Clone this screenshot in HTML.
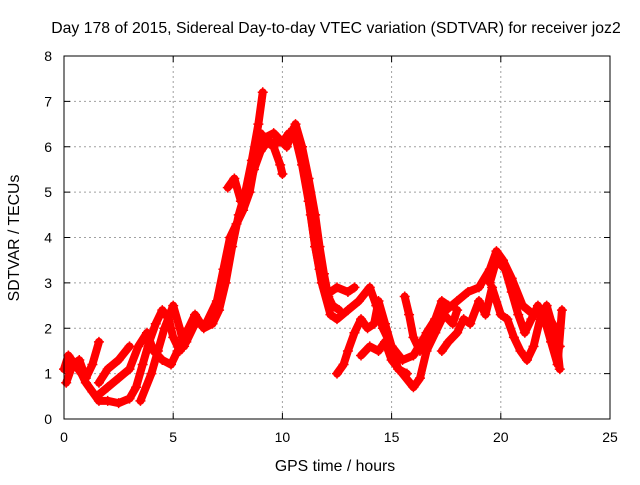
<!DOCTYPE html>
<html><head><meta charset="utf-8"><style>
body{margin:0;background:#fff;}
svg text{font-family:"Liberation Sans",Arial,sans-serif;font-size:14px;fill:#000;}
svg text.big{font-size:15.8px;}
</style></head><body>
<svg width="640" height="480" viewBox="0 0 640 480" id="chart">
<text class="big" x="336" y="33" text-anchor="middle">Day 178 of 2015, Sidereal Day-to-day VTEC variation (SDTVAR) for receiver joz2</text>
<text class="big" x="335" y="471" text-anchor="middle">GPS time / hours</text>
<text class="big" transform="translate(19,238) rotate(-90)" text-anchor="middle">SDTVAR / TECUs</text>
<g id="grid"></g>
<g id="ticks"></g>
<g id="marks"></g>
<rect x="64" y="56" width="546" height="363" fill="none" stroke="#000" stroke-width="1"/>
</svg>
<script>
const xTicks=[0,5,10,15,20,25];
const yTicks=[0,1,2,3,4,5,6,7,8];
const trackA=[[0,1.1],[0.2,1.4],[0.5,1.2],[0.8,1.0],[1.0,0.8],[1.3,0.6],[1.6,0.4],[2.0,0.4],[2.5,0.35],[3.0,0.45],[3.3,0.7],[3.6,1.2],[3.9,1.7],[4.2,2.1],[4.5,2.4],[4.8,2.2],[5.0,1.8],[5.3,1.5],[5.6,1.7],[6.0,2.1],[6.5,2.1],[7.0,2.6],[7.3,3.3],[7.6,4.0],[7.9,4.3],[8.2,4.6],[8.5,5.0],[8.8,5.8],[9.0,6.3],[9.3,6.1],[9.6,6.1],[10.0,6.1],[10.3,6.3],[10.6,6.2],[10.9,5.6],[11.2,4.8],[11.5,3.8],[11.8,3.0],[12.2,2.3],[12.5,2.2],[13.0,2.4],[13.5,2.6],[14.0,2.9],[14.3,2.5],[14.6,2.0],[15.0,1.6],[15.5,1.3],[16.0,1.4],[16.5,1.8],[17.0,2.2],[17.5,2.4],[18.0,2.6],[18.5,2.8],[19.0,2.9],[19.5,3.3],[19.8,3.7],[20.1,3.5],[20.5,3.1],[21.0,2.5],[21.5,2.3],[22.0,2.4],[22.5,2.0],[22.7,1.1]];
const trackB=[[0.1,0.8],[0.4,1.2],[0.7,1.3],[1.0,0.9],[1.3,1.2],[1.6,1.7]];
const trackC=[[1.6,0.8],[2.0,1.1],[2.5,1.3],[3.0,1.6]];
const trackD=[[1.5,0.5],[2.0,0.7],[2.5,0.9],[3.0,1.1],[3.4,1.6],[3.8,1.9],[4.1,1.5],[4.5,1.3],[4.9,1.2],[5.2,1.5],[5.6,1.9],[6.0,2.3],[6.4,2.0],[6.8,2.1],[7.1,2.4],[7.4,3.0],[7.7,3.8],[8.0,4.5],[8.3,5.0],[8.6,5.7],[8.9,6.5],[9.1,7.2]];
const trackE=[[3.5,0.4],[4.0,1.0],[4.3,1.5],[4.6,2.0],[5.0,2.5],[5.3,2.0],[5.5,1.6]];
const trackF=[[7.5,5.1],[7.8,5.3],[8.1,4.8],[8.4,5.0],[8.7,5.5],[9.0,5.9],[9.3,6.1],[9.6,6.0],[9.9,5.6],[10.0,5.4]];
const trackG=[[10.5,6.4],[10.8,6.0],[11.0,5.5],[11.3,4.5],[11.5,3.8],[11.7,3.3],[11.9,2.9],[12.2,2.8],[12.5,2.9],[13.0,2.8],[13.3,2.9]];
const trackM=[[9.2,6.2],[9.6,6.3],[10.2,6.0],[10.6,6.5],[10.9,6.0],[11.2,5.3],[11.5,4.5],[11.7,3.8],[11.9,3.2],[12.1,2.7],[12.3,2.5],[12.6,2.4]];
const trackH=[[12.5,1.0],[12.8,1.2],[13.0,1.5],[13.3,1.9],[13.6,2.2],[13.9,2.0],[14.2,2.1],[14.4,2.6],[14.7,2.1],[15.0,1.6],[15.3,1.1],[15.7,1.0]];
const trackI=[[13.6,1.4],[14.0,1.6],[14.4,1.5],[14.7,1.7],[15.0,1.3],[15.5,1.0],[16.0,0.7],[16.3,0.9],[16.6,1.5],[17.0,1.9],[17.4,2.3],[17.8,2.1],[18.0,2.4]];
const trackJ=[[15.6,2.7],[15.8,2.3],[16.0,1.8],[16.3,1.5],[16.6,1.9],[17.0,2.2],[17.3,2.6],[17.6,2.5]];
const trackK=[[17.3,1.5],[17.6,1.7],[18.0,1.9],[18.3,2.2],[18.6,2.1],[19.0,2.6],[19.3,2.3],[19.6,2.9],[20.0,2.3],[20.3,2.2],[20.6,1.8],[20.9,1.5],[21.2,1.3],[21.5,1.6],[21.8,2.2],[22.1,2.5],[22.4,2.0],[22.7,1.6]];
const trackL=[[19.5,3.0],[19.8,3.5],[20.2,3.3],[20.5,2.8],[20.8,2.3],[21.1,1.9],[21.4,2.2],[21.7,2.5],[22.0,2.2],[22.3,1.7],[22.6,1.2],[22.8,2.4]];
const tracks=[trackA,trackB,trackC,trackD,trackE,trackF,trackG,trackM,trackH,trackI,trackJ,trackK,trackL];

const NS='http://www.w3.org/2000/svg';
function xs(v){return 64+v*(546/25);}
function ys(v){return 419-v*(363/8);}
function mk(t,a,p){const e=document.createElementNS(NS,t);for(const k in a)e.setAttribute(k,a[k]);p.appendChild(e);return e;}
const grid=document.getElementById('grid'),ticks=document.getElementById('ticks'),marks=document.getElementById('marks');
xTicks.forEach(t=>{
  const x=xs(t);
  if(t>0&&t<25){const l=mk('line',{x1:x,x2:x,y1:56,y2:419,stroke:'#a0a0a0','stroke-dasharray':'2,3'},grid);
  
  }
  mk('line',{x1:x,x2:x,y1:419,y2:413,stroke:'#000'},ticks);
  mk('line',{x1:x,x2:x,y1:56,y2:62,stroke:'#000'},ticks);
  const tx=mk('text',{x:x,y:442,'text-anchor':'middle'},ticks);tx.textContent=t;
  
  
});
yTicks.forEach(t=>{
  const y=ys(t);
  if(t>0&&t<8){const l=mk('line',{x1:64,x2:610,y1:y,y2:y,stroke:'#a0a0a0','stroke-dasharray':'2,3'},grid);
  
  }
  mk('line',{x1:64,x2:70,y1:y,y2:y,stroke:'#000'},ticks);
  mk('line',{x1:610,x2:604,y1:y,y2:y,stroke:'#000'},ticks);
  const tx=mk('text',{x:52,y:y+5,'text-anchor':'end'},ticks);tx.textContent=t;
  
  
});
tracks.forEach((tr,i)=>{
  const pl=mk('polyline',{points:tr.map(p=>xs(p[0])+','+ys(p[1])).join(' '),fill:'none',stroke:'#ff0000','stroke-width':8,'stroke-linejoin':'round','stroke-linecap':'round'},marks);
  
  
  tr.forEach(p=>{
    const x=xs(p[0]),y=ys(p[1]);
    const m=mk('path',{d:`M${x-5},${y}H${x+5}M${x},${y-5}V${y+5}`,stroke:'#ff0000','stroke-width':1.5},marks);
    
    
  });
});
</script>
</body></html>
